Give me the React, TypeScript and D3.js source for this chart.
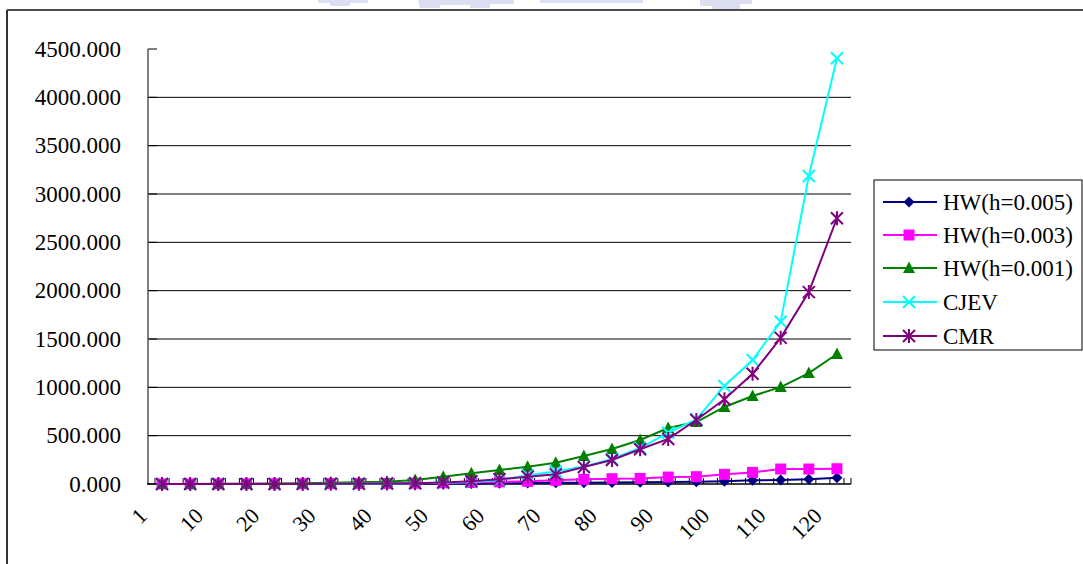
import React from "react";
import * as d3 from "d3";

const categories = ["1","5","10","15","20","25","30","35","40","45","50","55","60","65","70","75","80","85","90","95","100","105","110","115","120"];
const xLabels = ["1","10","20","30","40","50","60","70","80","90","100","110","120"];
const yTicks = [0, 500, 1000, 1500, 2000, 2500, 3000, 3500, 4000, 4500];

const hw005 = [0.1,0.2,0.3,0.5,0.7,1,1.5,2,3,4,5,6,8,10,12,14,16,18,20,22,28,38,42,50,65];
const hw003 = [0.5,1,1,2,2,3,4,5,6,8,12,16,22,28,38,48,55,58,72,76,100,120,155,155,158];
const hw001 = [0.5,1,2,3,5,8,12,17,24,41,76,110,145,179,220,290,362,455,579,641,797,910,1003,1148,1345];
const cjev = [0.1,0.2,0.3,0.5,0.8,1,2,3,5,8,12,20,40,90,130,180,260,372,531,669,1014,1283,1679,3186,4404];
const cmr = [0.1,0.2,0.3,0.5,0.8,1,2,3,5,8,15,28,50,75,100,175,248,359,466,662,876,1140,1512,1985,2749];

const seriesNames = ["HW(h=0.005)", "HW(h=0.003)", "HW(h=0.001)", "CJEV", "CMR"];
const seriesColors = ["#000080", "#FF00FF", "#008000", "#00FFFF", "#800080"];
const seriesMarkers = ["diamond", "square", "triangle", "x", "star"];
const seriesValues = [hw005, hw003, hw001, cjev, cmr];

const FONT = "\"Liberation Serif\", \"DejaVu Serif\", \"Times New Roman\", serif";
const textStyle = { fontFamily: FONT };

function Marker({ type, x, y, color }: { type: string; x: number; y: number; color: string }) {
  if (type === "diamond") {
    return <path d={`M${x},${y - 5.5}L${x + 5.5},${y}L${x},${y + 5.5}L${x - 5.5},${y}Z`} fill={color} />;
  }
  if (type === "square") {
    return <rect x={x - 5.5} y={y - 5.5} width={11} height={11} fill={color} />;
  }
  if (type === "triangle") {
    return <path d={`M${x},${y - 6.5}L${x + 6},${y + 5}L${x - 6},${y + 5}Z`} fill={color} />;
  }
  if (type === "x") {
    return (
      <path d={`M${x - 6},${y - 6}L${x + 6},${y + 6}M${x + 6},${y - 6}L${x - 6},${y + 6}`} stroke={color} strokeWidth={2} fill="none" />
    );
  }
  return (
    <path d={`M${x - 6},${y - 6}L${x + 6},${y + 6}M${x + 6},${y - 6}L${x - 6},${y + 6}M${x},${y - 7}L${x},${y + 7}`} stroke={color} strokeWidth={2} fill="none" />
  );
}

export default function App() {
  const W = 1083, H = 564;
  const left = 148, right = 851, top = 49, bottom = 484;
  const xBand = d3.scaleBand<number>().domain(categories.map((_, i) => i)).range([left, right]).padding(0);
  const bw = xBand.bandwidth();
  const xc = (i: number) => (xBand(i) as number) + bw / 2;
  const y = d3.scaleLinear().domain([0, 4500]).range([bottom, top]);
  const line = d3.line<number>().x((_, i) => xc(i)).y((d) => y(d));

  const xTickPos: number[] = [];
  categories.forEach((_, i) => {
    xTickPos.push(xc(i) - bw / 4);
    xTickPos.push(xc(i) + bw / 4);
  });

  const legendX = 874, legendY = 180, legendW = 208, legendH = 170;
  const legendRowY = [202, 235, 268, 302, 336];

  return (
    <svg width={W} height={H} style={{ position: "absolute", left: 0, top: 0, display: "block", background: "#fff" }}>
      <rect x={0} y={0} width={W} height={H} fill="#fff" />
      {/* watermark remnants */}
      <g fill="#d4d7f0" opacity={0.8}>
        <path d="M318,0H368V3H350V6H330V3H318Z" />
        <path d="M418,0H514V4H490V8H470V5H440V8H420Z" />
        <rect x={540} y={0} width={103} height={3} />
        <path d="M700,0H752V4H740V9H712V6H700Z" />
      </g>
      {/* outer border */}
      <line x1={7} y1={10} x2={W} y2={10} stroke="#111" strokeWidth={1.5} />
      <line x1={7} y1={10} x2={7} y2={H} stroke="#333" strokeWidth={2} />

      {/* gridlines */}
      {yTicks.filter((t) => t > 0 && t < 4500).map((t) => (
        <line key={t} x1={left} x2={right} y1={y(t)} y2={y(t)} stroke="#000" strokeWidth={1} />
      ))}
      {/* y axis */}
      <line x1={left} x2={left} y1={top} y2={bottom} stroke="#808080" strokeWidth={2} />
      {yTicks.map((t) => (
        <line key={"yt" + t} x1={left} x2={left + 9} y1={y(t)} y2={y(t)} stroke="#000" strokeWidth={1} />
      ))}
      {yTicks.map((t) => (
        <text key={"yl" + t} x={121} y={y(t)} dy="0.34em" textAnchor="end" fontSize={23} fill="#000" style={textStyle}>
          {d3.format(".3f")(t)}
        </text>
      ))}
      {/* x axis */}
      <line x1={left - 1} x2={right} y1={bottom} y2={bottom} stroke="#000" strokeWidth={1.5} />
      {xTickPos.map((p, i) => (
        <line key={"xt" + i} x1={p} x2={p} y1={bottom} y2={bottom - 6} stroke="#000" strokeWidth={1} />
      ))}
      <line x1={right} x2={right} y1={bottom} y2={bottom - 6} stroke="#000" strokeWidth={1} />
      {xLabels.map((lab, k) => {
        const px = xc(k * 2) - 19;
        const py = 512;
        return (
          <text key={"xl" + lab} x={px} y={py} dy="0.34em" textAnchor="end" fontSize={22} fill="#000" style={textStyle} transform={`rotate(-45 ${px} ${py})`}>
            {lab}
          </text>
        );
      })}

      {/* series */}
      {seriesValues.map((vals, s) => (
        <g key={seriesNames[s]}>
          <path d={line(vals) as string} fill="none" stroke={seriesColors[s]} strokeWidth={2} />
          {vals.map((v, i) => (
            <Marker key={i} type={seriesMarkers[s]} x={xc(i)} y={y(v)} color={seriesColors[s]} />
          ))}
        </g>
      ))}

      {/* legend */}
      <rect x={legendX} y={legendY} width={legendW} height={legendH} fill="#fff" stroke="#000" strokeWidth={1} />
      {seriesNames.map((name, s) => (
        <g key={"lg" + name}>
          <line x1={883} x2={937} y1={legendRowY[s]} y2={legendRowY[s]} stroke={seriesColors[s]} strokeWidth={2} />
          <Marker type={seriesMarkers[s]} x={909} y={legendRowY[s]} color={seriesColors[s]} />
          <text x={943} y={legendRowY[s]} dy="0.34em" fontSize={23} fill="#000" style={textStyle}>{name}</text>
        </g>
      ))}
    </svg>
  );
}
